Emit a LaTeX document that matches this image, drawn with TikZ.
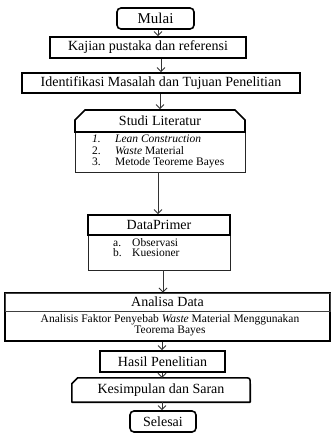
\documentclass[tikz,border=0pt]{standalone}
\usepackage{fontspec}
\setmainfont{Liberation Serif}
\usetikzlibrary{arrows.meta,shapes.misc}
\begin{document}
\begin{tikzpicture}[x=1pt,y=-1pt,
  box/.style={draw=black,line width=1.6pt,inner sep=0pt,rectangle},
  thinbox/.style={draw=black!85,line width=0.8pt,inner sep=0pt,rectangle},
  hdr/.style={font=\fontsize{14}{16}\selectfont},
  itm/.style={font=\fontsize{11.5}{11}\selectfont,inner sep=0pt},
  arr/.style={draw=black!80,line width=0.9pt,-{Straight Barb[length=4pt,width=8pt]}}]
\useasboundingbox (0,0) rectangle (332,434);
\fill[white] (0,0) rectangle (332,434);

% Mulai
\node[box,rounded corners=4pt,minimum width=77pt,minimum height=21pt,font=\fontsize{15}{17}\selectfont] (mulai) at (155.5,18.5) {Mulai};
% Kajian
\node[box,hdr,minimum width=196pt,minimum height=21pt] (kajian) at (148,47.5) {Kajian pustaka dan referensi};
% Identifikasi
\node[box,hdr,minimum width=278pt,minimum height=20pt] (ident) at (161,83) {Identifikasi Masalah dan Tujuan Penelitian};

% Studi Literatur
\node[thinbox,minimum width=170pt,minimum height=40pt] (studib) at (160,152) {};
\node[draw=black,line width=1.6pt,inner sep=0pt,chamfered rectangle,chamfered rectangle corners={north west,north east},chamfered rectangle xsep=5pt,chamfered rectangle ysep=5pt,minimum width=170pt,minimum height=22pt,hdr] (studih) at (160,121) {Studi Literatur};
\node[itm,anchor=base west] (s1n) at (92,142.5) {\itshape 1.};
\node[itm,anchor=base west] (s1) at (115,142.5) {\itshape Lean Construction};
\node[itm,anchor=base west] (s2n) at (92,154) {2.};
\node[itm,anchor=base west] (s2) at (115,154) {\textit{Waste} Material};
\node[itm,anchor=base west] (s3n) at (92,165.5) {3.};
\node[itm,anchor=base west] (s3) at (115,165.5) {Metode Teoreme Bayes};

% Data Primer
\node[thinbox,minimum width=142pt,minimum height=35pt] (datab) at (159,252.5) {};
\node[box,hdr,minimum width=142pt,minimum height=20pt] (datah) at (159,225) {DataPrimer};
\node[itm,anchor=base west] (dan) at (113,246.5) {a.};
\node[itm,anchor=base west] (da) at (132,246.5) {Observasi};
\node[itm,anchor=base west] (dbn) at (113,256.5) {b.};
\node[itm,anchor=base west] (db) at (132,256.5) {Kuesioner};

% Analisa Data
\node[draw=black,line width=1.3pt,inner sep=0pt,minimum width=325pt,minimum height=48pt] (anab) at (167.5,317) {};
\node[draw=black!75,line width=0.8pt,inner sep=0pt,minimum width=325pt,minimum height=18pt,hdr] (anah) at (167.5,302) {Analisa Data};
\node[itm,align=center] (anat) at (170,325) {Analisis Faktor Penyebab \textit{Waste} Material Menggunakan\\Teorema Bayes};

% Hasil
\node[box,hdr,minimum width=125pt,minimum height=21pt] (hasil) at (162.5,361.5) {Hasil Penelitian};
% Kesimpulan
\node[hdr,inner sep=0pt,minimum width=178pt,minimum height=24pt] (kes) at (161,390) {Kesimpulan dan Saran};
\draw[line width=1.6pt,line join=round] (kes.south west) -- ([yshift=-6pt]kes.north west) -- ([xshift=6pt]kes.north west) -- ([xshift=-6pt]kes.north east) .. controls (kes.north east) .. ([yshift=-6pt]kes.north east) -- (kes.south east) -- cycle;
% Selesai
\node[box,hdr,rounded corners=4pt,minimum width=66pt,minimum height=21pt] (selesai) at (163,421.5) {Selesai};

% arrows
\draw[arr] ([xshift=2.5pt]mulai.south) -- ([xshift=10pt]kajian.north);
\draw[arr] ([xshift=13pt]kajian.south) -- (ident.north);
\draw[arr] ([xshift=-1pt]ident.south) -- (studih.north);
\draw[arr] ([xshift=-2pt]studib.south) -- ([xshift=-1pt]datah.north);
\draw[arr] ([xshift=4pt]datab.south) -- ([xshift=-4.5pt]anah.north);
\draw[arr] ([xshift=-5.5pt]anab.south) -- ([xshift=-0.5pt]hasil.north);
\draw[arr] ([xshift=-0.5pt]hasil.south) -- ([xshift=1pt]kes.north);
\draw[arr] ([xshift=1pt]kes.south) -- ([xshift=-1pt]selesai.north);
\end{tikzpicture}
\end{document}
